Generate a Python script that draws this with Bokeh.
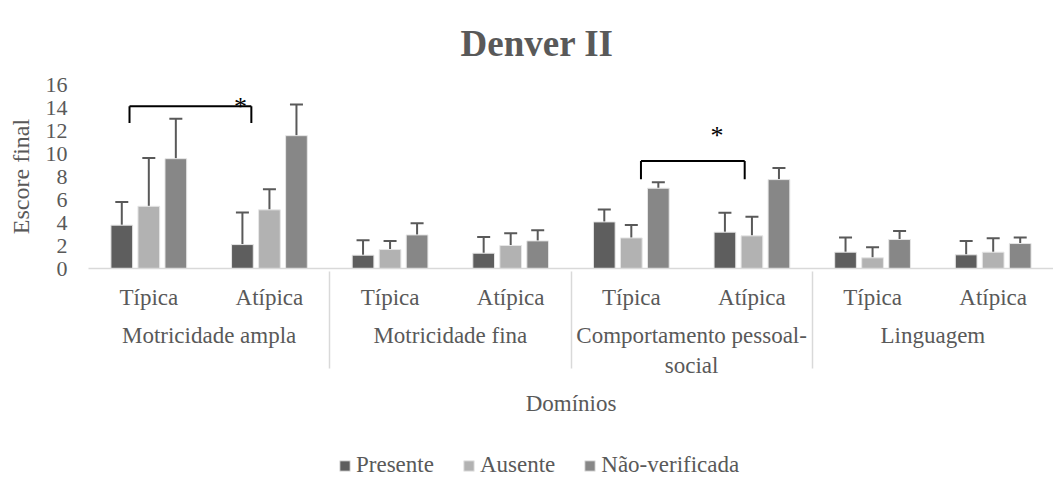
from bokeh.plotting import figure
from bokeh.layouts import column
from bokeh.models import (ColumnDataSource, FactorRange, Range1d, Whisker, Legend,
                          LegendItem, FixedTicker, TeeHead)
from bokeh.transform import dodge
from bokeh.core.properties import value
from bokeh.embed import file_html
from bokeh.resources import INLINE

domains = ["Motricidade ampla", "Motricidade fina", "Comportamento pessoal-\nsocial", "Linguagem"]
groups = ["Típica", "Atípica"]
series = ["Presente", "Ausente", "Não-verificada"]

presente = [3.77, 2.08, 1.16, 1.33, 4.05, 3.16, 1.42, 1.19]
presente_err = [2.02, 2.78, 1.30, 1.42, 1.07, 1.68, 1.27, 1.21]
ausente = [5.41, 5.10, 1.65, 2.00, 2.66, 2.84, 0.93, 1.42]
ausente_err = [4.20, 1.79, 0.75, 1.07, 1.13, 1.65, 0.92, 1.22]
naover = [9.55, 11.55, 2.92, 2.40, 6.98, 7.73, 2.52, 2.17]
naover_err = [3.47, 2.72, 1.02, 0.93, 0.52, 1.01, 0.75, 0.52]

# significance brackets: domain, low end, top
bracket_domain = ["Motricidade ampla", "Comportamento pessoal-\nsocial"]
bracket_low = [12.65, 7.76]
bracket_high = [14.1, 9.35]
bracket_left_off = [-0.16, 0.08]
bracket_right_off = [-0.15, -0.06]
star_off = [-0.24, -0.29]
star_y = [14.1, 11.6]

colors = ["#5e5e5e", "#b2b2b2", "#878787"]
text_color = "#595959"
font = "Liberation Serif"

factors = [(d, g) for d in domains for g in groups]
vals = [presente, ausente, naover]
errs = [presente_err, ausente_err, naover_err]

data = dict(x=factors)
for i, (v, e) in enumerate(zip(vals, errs)):
    data[f"v{i}"] = v
    data[f"u{i}"] = [a + b for a, b in zip(v, e)]
src = ColumnDataSource(data)

p = figure(x_range=FactorRange(*factors, range_padding=0, factor_padding=0, group_padding=0),
           y_range=Range1d(0, 16), frame_width=965, frame_height=184,
           output_backend="svg", toolbar_location=None,
           min_border_left=88, min_border_right=0, min_border_top=77, min_border_bottom=0)
p.outline_line_color = None
p.xgrid.grid_line_color = None
p.ygrid.grid_line_color = None

offsets = [-0.224, 0.0, 0.224]
for i in range(3):
    p.vbar(x=dodge("x", offsets[i], range=p.x_range), top=f"v{i}", width=0.18,
           source=src, fill_color=colors[i], line_color="#e6e6e6", line_width=1)
    w = Whisker(base=dodge("x", offsets[i], range=p.x_range), lower=f"v{i}", upper=f"u{i}",
                source=src, line_color="#595959", line_width=2,
                upper_head=TeeHead(size=13, line_color="#595959", line_width=2),
                lower_head=None)
    p.add_layout(w)

# brackets
bsrc = ColumnDataSource(dict(
    xl=[(d, "Típica", o) for d, o in zip(bracket_domain, bracket_left_off)],
    xr=[(d, "Atípica", o) for d, o in zip(bracket_domain, bracket_right_off)],
    lo=bracket_low, hi=bracket_high,
    xs=[(d, "Atípica", o) for d, o in zip(bracket_domain, star_off)],
    ys=star_y, t=["*"] * len(bracket_domain)))
p.segment(x0="xl", y0="lo", x1="xl", y1="hi", source=bsrc, line_color="black", line_width=2)
p.segment(x0="xl", y0="hi", x1="xr", y1="hi", source=bsrc, line_color="black", line_width=2)
p.segment(x0="xr", y0="hi", x1="xr", y1="lo", source=bsrc, line_color="black", line_width=2)
p.text(x="xs", y="ys", text="t", source=bsrc, text_font=value(font), text_font_size="26px",
       text_align="center", text_baseline="middle", text_color="black")

# title
p.title.text = "Denver II"
p.title.text_font = font
p.title.text_font_size = "37px"
p.title.text_font_style = "bold"
p.title.text_color = text_color
p.title.align = "left"
p.title.offset = 372
p.title.standoff = 41
p.title.text_line_height = 0.95

# y axis
ya = p.yaxis[0]
ya.ticker = FixedTicker(ticks=list(range(0, 17, 2)))
ya.axis_line_color = None
ya.major_tick_line_color = None
ya.minor_tick_line_color = None
ya.major_label_text_font = font
ya.major_label_text_font_size = "22px"
ya.major_label_text_color = text_color
ya.major_label_standoff = 15
ya.axis_label = "Escore final"
ya.axis_label_text_font = font
ya.axis_label_text_font_size = "24px"
ya.axis_label_text_font_style = "normal"
ya.axis_label_text_color = text_color
ya.axis_label_standoff = 9

# x axis
xa = p.xaxis[0]
xa.axis_line_color = "#d9d9d9"
xa.axis_line_width = 1.5
xa.major_tick_line_color = None
xa.minor_tick_line_color = None
xa.major_label_text_font = font
xa.major_label_text_font_size = "23px"
xa.major_label_text_color = text_color
xa.major_label_standoff = 10
xa.group_text_font = font
xa.group_text_font_size = "23px"
xa.group_text_font_style = "normal"
xa.group_text_color = text_color
xa.separator_line_color = "#d9d9d9"
xa.separator_line_width = 1.5
xa.axis_label = "Domínios"
xa.axis_label_text_font = font
xa.axis_label_text_font_size = "23px"
xa.axis_label_text_font_style = "normal"
xa.axis_label_text_color = text_color
xa.axis_label_standoff = 10

# legend strip below the chart (swatch glyphs sit outside the visible range)
pl = figure(width=1048, height=62, x_range=Range1d(0, 1), y_range=Range1d(0, 1),
            output_backend="svg", toolbar_location=None, min_border=0)
pl.axis.visible = False
pl.xgrid.grid_line_color = None
pl.ygrid.grid_line_color = None
pl.outline_line_color = None
lr = [pl.vbar(x=[-5], top=[-5], width=0.1, fill_color=c, line_color="#e6e6e6", line_width=1)
      for c in colors]
legend = Legend(items=[LegendItem(label=s, renderers=[r]) for s, r in zip(series, lr)],
                orientation="horizontal", location=(250, 2),
                glyph_width=13, glyph_height=13, label_standoff=5, spacing=28,
                label_text_font=font, label_text_font_size="23px", label_text_color=text_color,
                border_line_color=None, background_fill_alpha=0, padding=0, margin=0)
pl.add_layout(legend)

layout = column(p, pl, spacing=0)
open("out.html", "w").write(file_html(layout, INLINE))
